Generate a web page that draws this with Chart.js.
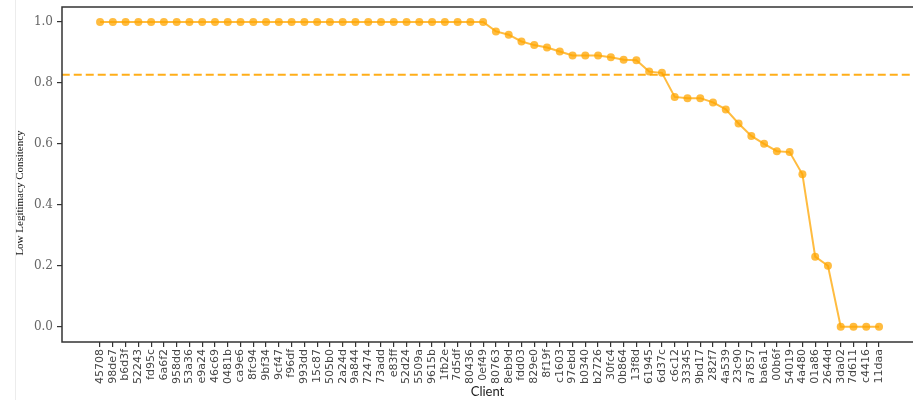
<!DOCTYPE html>
<html>
<head>
<meta charset="utf-8">
<script src="https://cdn.jsdelivr.net/npm/chart.js@4.4.1/dist/chart.umd.min.js"></script>
<style>
  html, body { margin: 0; padding: 0; background: #fff; }
  #wrap { position: relative; width: 913px; height: 400px; overflow: hidden; }
  #edge { position: absolute; left: 15px; top: 0; width: 1px; height: 400px; background: #ececec; }
  canvas { position: absolute; left: 0; top: 0; }
</style>
</head>
<body>
<div id="wrap">
  <div id="edge"></div>
  <canvas id="chart" width="913" height="400"></canvas>
</div>
<script>
// Clients, sorted by consistency score
const clients = [
  '45708','98de7','b6d3f','52243','fd95c','6a6f2','958dd','53a36','e9a24','46c69',
  '0481b','ca9e6','8fc94','9bf34','9cf47','f96df','993dd','15c87','505b0','2a24d',
  '9a844','72474','73add','e83ff','52d24','5509a','9615b','1fb2e','7d5df','80436',
  '0ef49','80763','8eb9d','fdd03','829e0','8f19f','c1603','97ebd','b0340','b2726',
  '30fc4','0b864','13f8d','61945','6d37c','c6c12','33345','9bd17','282f7','4a539',
  '23c90','a7857','ba6a1','00b6f','54019','4a480','01a86','2644d','3da02','7d611',
  'c4416','11daa'
];

const consistency = [
  1.0, 1.0, 1.0, 1.0, 1.0, 1.0, 1.0, 1.0, 1.0, 1.0,
  1.0, 1.0, 1.0, 1.0, 1.0, 1.0, 1.0, 1.0, 1.0, 1.0,
  1.0, 1.0, 1.0, 1.0, 1.0, 1.0, 1.0, 1.0, 1.0, 1.0,
  1.0, 0.969, 0.958, 0.936, 0.924, 0.916, 0.903, 0.890, 0.890, 0.890,
  0.884, 0.876, 0.874, 0.837, 0.833, 0.754, 0.750, 0.750, 0.736, 0.713,
  0.667, 0.626, 0.600, 0.576, 0.573, 0.500, 0.230, 0.200, 0.0, 0.0,
  0.0, 0.0
];

// Mean consistency reference level
const meanLevel = 0.827;

const yTicks = [0.0, 0.2, 0.4, 0.6, 0.8, 1.0];
const yTitle = 'Low Legitimacy Consitency';

const orange = 'rgba(255,165,0,0.75)';

// Box round the plot area, open past the right edge of the canvas
const framePlugin = {
  id: 'frame',
  afterDraw(chart) {
    const { ctx, chartArea: a } = chart;
    ctx.save();
    ctx.strokeStyle = '#333';
    ctx.lineWidth = 1.5;
    ctx.strokeRect(a.left, a.top, chart.width + 10 - a.left, a.bottom - a.top);
    ctx.restore();
  }
};

// Vertical y-axis title
const yTitlePlugin = {
  id: 'ytitle',
  afterDraw(chart) {
    const { ctx } = chart;
    ctx.save();
    ctx.translate(20, 193);
    ctx.rotate(-Math.PI / 2);
    ctx.fillStyle = '#111';
    ctx.font = '11px "Liberation Serif"';
    ctx.textAlign = 'center';
    ctx.textBaseline = 'middle';
    ctx.fillText(yTitle, 0, 0);
    ctx.restore();
  }
};

new Chart(document.getElementById('chart'), {
  type: 'line',
  data: {
    datasets: [
      {
        data: consistency.map((v, i) => ({ x: i, y: v })),
        borderColor: orange,
        backgroundColor: orange,
        borderWidth: 2,
        pointRadius: 4,
        pointHoverRadius: 4,
        pointBorderWidth: 0,
        tension: 0
      },
      {
        data: [{ x: -3, y: meanLevel }, { x: 70, y: meanLevel }],
        borderColor: 'rgba(255,165,0,0.9)',
        borderWidth: 2,
        borderDash: [8, 4],
        pointRadius: 0,
        tension: 0
      }
    ]
  },
  options: {
    responsive: false,
    animation: false,
    layout: { autoPadding: false, padding: { left: 0, right: 0, top: 7, bottom: 0 } },
    plugins: { legend: { display: false }, tooltip: { enabled: false } },
    scales: {
      x: {
        type: 'linear',
        min: -2.98,
        max: 63.66,
        afterBuildTicks(scale) { scale.ticks = clients.map((_, i) => ({ value: i })); },
        afterFit(scale) { scale.height = 58; },
        ticks: {
          autoSkip: false,
          minRotation: 90,
          maxRotation: 90,
          padding: 2,
          color: '#444',
          font: { family: 'DejaVu Sans', size: 11, lineHeight: 0.1 },
          callback: (v) => clients[v]
        },
        grid: { drawOnChartArea: false, drawTicks: true, tickLength: 5, color: '#333', lineWidth: 1.2 },
        border: { display: false },
        title: {
          display: true,
          text: 'Client',
          color: '#222',
          font: { family: 'Lato', size: 13 },
          padding: { top: 0, bottom: 0 }
        }
      },
      y: {
        min: -0.05,
        max: 1.049,
        afterBuildTicks(scale) { scale.ticks = yTicks.map(v => ({ value: v })); },
        afterFit(scale) { scale.width = 62; },
        ticks: {
          color: '#666',
          padding: 4,
          font: { family: 'DejaVu Serif', size: 12, lineHeight: 0.1 },
          callback: (v) => v.toFixed(1)
        },
        grid: { drawOnChartArea: false, drawTicks: true, tickLength: 5, color: '#333', lineWidth: 1.2 },
        border: { display: false }
      }
    }
  },
  plugins: [framePlugin, yTitlePlugin]
});
</script>
</body>
</html>
